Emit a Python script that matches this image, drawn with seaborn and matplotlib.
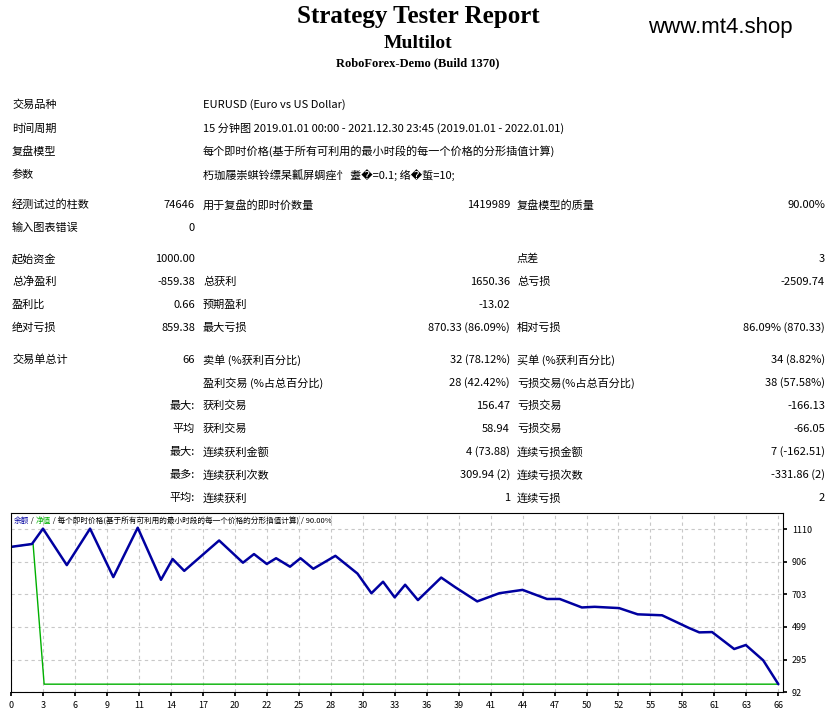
import matplotlib
matplotlib.use("Agg")
import matplotlib.pyplot as plt
import numpy as np
import pandas as pd
import seaborn as sns

# balance curve (trade number, balance)
balance_trade = [0, 1.8, 2.75, 4.8, 6.8, 8.8, 10.9, 12.9, 13.9, 14.9, 17.9, 19.95, 20.9, 22.0, 22.8,
                 24.0, 24.9, 26.0, 27.9, 29.8, 31.0, 32.0, 33.0, 33.9, 35.0, 37.0, 38.2, 40.1, 42.0,
                 44.0, 46.1, 47.2, 49.1, 50.2, 52.3, 53.9, 56.0, 58.3, 59.2, 60.3, 62.2, 63.2, 64.7, 66.0]
balance_value = [1000, 1018, 1114, 886, 1114, 811, 1120, 794, 924, 850, 1040, 901, 955, 893, 929,
                 876, 929, 863, 944, 833, 710, 782, 684, 763, 667, 808, 748, 659, 710,
                 731, 674, 674, 621, 625, 617, 578, 572, 493, 465, 467, 361, 386, 290, 141]
equity_trade = [0, 1.9, 2.85, 66.0]
equity_value = [1000, 1018, 141, 141]

x_labels = ["0", "3", "6", "9", "11", "14", "17", "20", "22", "25", "28", "30", "33", "36", "39",
            "41", "44", "47", "50", "52", "55", "58", "61", "63", "66"]
y_ticks = [92, 295, 499, 703, 906, 1110]

header_rows = [
    ("交易品种", "EURUSD (Euro vs US Dollar)"),
    ("时间周期", "15 分钟图 2019.01.01 00:00 - 2021.12.30 23:45 (2019.01.01 - 2022.01.01)"),
    ("复盘模型", "每个即时价格(基于所有可利用的最小时段的每一个价格的分形插值计算)"),
    ("参数", "朽珈屦崇蜞铃缥杲瓤屏蜩痤忄 耋�=0.1; 络�蜇=10;"),
]
# (y, label1, value1, label2, value2, label3, value3)
stat_rows = [
    (205, "经测试过的柱数", "74646", "用于复盘的即时价数量", "1419989", "复盘模型的质量", "90.00%"),
    (228, "输入图表错误", "0", "", "", "", ""),
    (259, "起始资金", "1000.00", "", "", "点差", "3"),
    (282, "总净盈利", "-859.38", "总获利", "1650.36", "总亏损", "-2509.74"),
    (305, "盈利比", "0.66", "预期盈利", "-13.02", "", ""),
    (328, "绝对亏损", "859.38", "最大亏损", "870.33 (86.09%)", "相对亏损", "86.09% (870.33)"),
    (360, "交易单总计", "66", "卖单 (%获利百分比)", "32 (78.12%)", "买单 (%获利百分比)", "34 (8.82%)"),
    (383, "", "", "盈利交易 (%占总百分比)", "28 (42.42%)", "亏损交易(%占总百分比)", "38 (57.58%)"),
    (406, "", "最大:", "获利交易", "156.47", "亏损交易", "-166.13"),
    (429, "", "平均", "获利交易", "58.94", "亏损交易", "-66.05"),
    (452, "", "最大:", "连续获利金额", "4 (73.88)", "连续亏损金额", "7 (-162.51)"),
    (475, "", "最多:", "连续获利次数", "309.94 (2)", "连续亏损次数", "-331.86 (2)"),
    (498, "", "平均:", "连续获利", "1", "连续亏损", "2"),
]

sns.set_theme(style="white")
plt.rcParams['font.family'] = ['Noto Sans CJK SC', 'DejaVu Sans']
plt.rcParams['text.color'] = 'black'

W, H = 833, 715
fig = plt.figure(figsize=(W / 100, H / 100), dpi=100)
fig.patch.set_facecolor("white")

def ft(x, y, s, **kw):
    return fig.text(x / W, 1 - y / H, s, va="center", **kw)

ft(418, 16, "Strategy Tester Report", ha="center", fontsize=18, fontweight="bold", family="Liberation Serif")
ft(418, 43, "Multilot", ha="center", fontsize=14, fontweight="bold", family="Liberation Serif")
ft(418, 63, "RoboForex-Demo (Build 1370)", ha="center", fontsize=9, fontweight="bold", family="Liberation Serif")
ft(720, 27, "www.mt4.shop", ha="center", fontsize=16, family="Liberation Sans")

fs = 8
for i, (lab, val) in enumerate(header_rows):
    y = 105 + i * 23.3
    ft(12, y, lab, fontsize=fs)
    ft(203, y, val, fontsize=fs)

for y, l1, v1, l2, v2, l3, v3 in stat_rows:
    ft(12, y, l1, fontsize=fs)
    ft(195, y, v1, ha="right", fontsize=fs)
    ft(203, y, l2, fontsize=fs)
    ft(510, y, v2, ha="right", fontsize=fs)
    ft(517, y, l3, fontsize=fs)
    ft(825, y, v3, ha="right", fontsize=fs)

# equity chart
ax = fig.add_axes([11 / W, 1 - 692 / H, (783 - 11) / W, (692 - 513) / H])
bal = pd.DataFrame({"trade": balance_trade, "value": balance_value})
eq = pd.DataFrame({"trade": equity_trade, "value": equity_value})
sns.lineplot(data=eq, x="trade", y="value", ax=ax, color="#00b000", linewidth=1)
sns.lineplot(data=bal, x="trade", y="value", ax=ax, color="#0000a0", linewidth=1.8)
ax.set_xlim(0, 66.4)
ax.set_ylim(92, 1212)
ax.set_xticks(np.linspace(0, 66, len(x_labels)))
ax.set_xticklabels(x_labels)
ax.set_yticks(y_ticks)
ax.yaxis.tick_right()
ax.tick_params(labelsize=6.5, length=3, direction="out", colors="black")
ax.tick_params(axis="both", which="both", bottom=True, right=True)
ax.set_xlabel("")
ax.set_ylabel("")
ax.grid(True, linestyle=(0, (3, 3)), color="#c8c8c8", linewidth=0.8)
for sp in ax.spines.values():
    sp.set_color("black")
    sp.set_linewidth(0.8)

parts = [("余额", "#0000a0"), (" / ", "black"), ("净值", "#00b000"),
         (" / 每个即时价格(基于所有可利用的最小时段的每一个价格的分形插值计算) / 90.00%", "black")]
renderer = fig.canvas.get_renderer()
xpos = 14
for s, c in parts:
    txt = ft(xpos, 521, s, fontsize=5.5, color=c)
    xpos += txt.get_window_extent(renderer).width

fig.savefig("out.png", dpi=100, facecolor="white")
